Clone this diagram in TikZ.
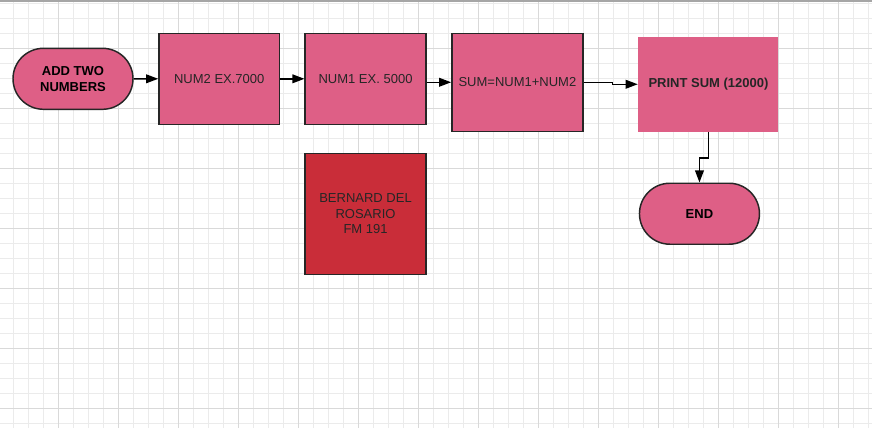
\documentclass[tikz,border=0pt]{standalone}
\usepackage{fontspec}
\setmainfont{Liberation Sans}
\usetikzlibrary{arrows.meta,shapes.misc}

\definecolor{flowpink}{HTML}{DE5F86}
\definecolor{flowred}{HTML}{C92D39}
\definecolor{gridminor}{HTML}{EBEBEB}
\definecolor{gridmajor}{HTML}{D9D9D9}

\begin{document}
\begin{tikzpicture}[x=0.75pt,y=-0.75pt,->,>={Triangle[length=9pt,width=6.5pt]},line width=1.1pt,
        node distance=109.7pt,font=\fontsize{9.75}{11.8}\selectfont,
        process/.style={rectangle,draw=black!85,fill=flowpink,text=black!85,align=center,
          minimum width=90.5pt,minimum height=68.25pt,inner sep=0pt},
        terminal/.style={rounded rectangle,draw=black!85,fill=flowpink,align=center,
          minimum width=90pt,minimum height=45.75pt,inner sep=0pt,font=\fontsize{9.75}{11.8}\selectfont\bfseries}]

  % grid paper
  \useasboundingbox (0,0) rectangle (872,428);
  \fill[white] (0,0) rectangle (872,428);
  \foreach \x in {13.3,28.3,...,870} \draw[-,gridminor,line width=0.75pt] (\x,0) -- (\x,428);
  \foreach \y in {3.3,18.3,...,428} \draw[-,gridminor,line width=0.75pt] (0,\y) -- (872,\y);
  \foreach \x in {58.3,118.3,...,870} \draw[-,gridmajor,line width=0.75pt] (\x,0) -- (\x,428);
  \foreach \y in {48.3,108.3,...,428} \draw[-,gridmajor,line width=0.75pt] (0,\y) -- (872,\y);
  \draw[-,gray!70,line width=1.5pt] (0,1.2) -- (872,1.2);

  \node[terminal] (Start) at (73,78.8) {ADD TWO\\NUMBERS};
  \node[process] (Num2) [right of=Start] {NUM2 EX.7000};
  \node[process] (Num1) [right of=Num2] {NUM1 EX. 5000};
  \node[process,minimum width=98.25pt,minimum height=73.5pt] (Sum) [right of=Num1,node distance=113.9pt,yshift=-2.6pt] {SUM=NUM1+NUM2};
  \node[process,draw=none,minimum width=105pt,minimum height=71.25pt,font=\fontsize{9.75}{11.8}\selectfont\bfseries] (Print) [right of=Sum,node distance=143.3pt,yshift=-1.5pt] {PRINT SUM (12000)};
  \node[terminal] (End) [below of=Print,node distance=97.1pt,xshift=-6.75pt] {END};
  \node[process,fill=flowred,minimum height=90.75pt] (Author) [below of=Num1,node distance=101.25pt] {BERNARD DEL\\ROSARIO\\FM 191};

  \path (Start) edge (Num2)
        (Num2) edge (Num1)
        (Num1.east |- Sum) edge (Sum);
  \draw (Sum.east) -- ++(28.7,0) |- (Print);
  \draw (Print.south) -- ++(0,25.5) -| (End);
\end{tikzpicture}
\end{document}
